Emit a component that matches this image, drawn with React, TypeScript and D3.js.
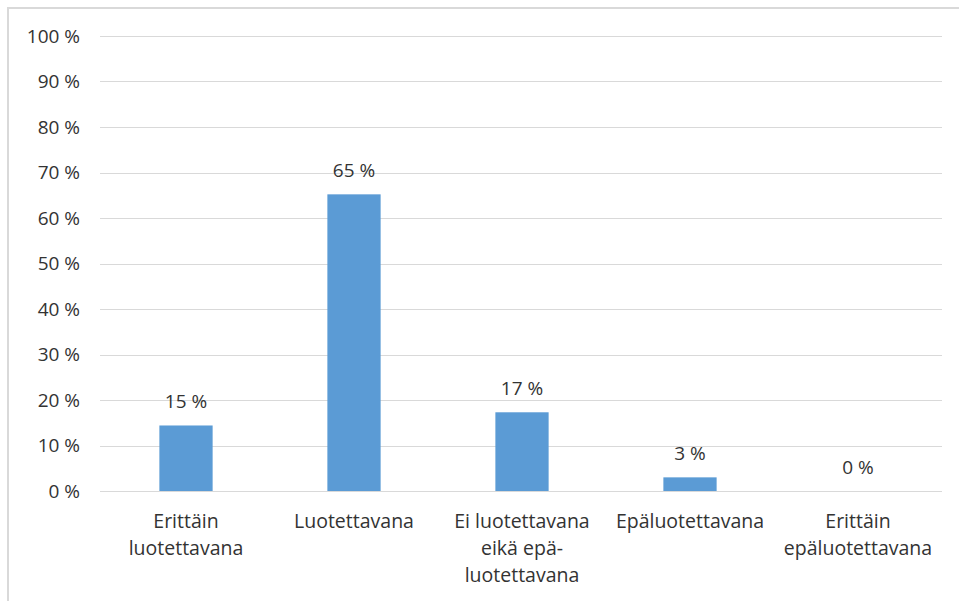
import React, { useEffect } from "react";
import * as d3 from "d3";

const categories: string[][] = [
  ["Erittäin", "luotettavana"],
  ["Luotettavana"],
  ["Ei luotettavana", "eikä epä-", "luotettavana"],
  ["Epäluotettavana"],
  ["Erittäin", "epäluotettavana"],
];
const values: number[] = [14.4, 65.2, 17.3, 3.0, 0];
const dataLabels: string[] = ["15 %", "65 %", "17 %", "3 %", "0 %"];
const yTicks: number[] = [0, 10, 20, 30, 40, 50, 60, 70, 80, 90, 100];

const W = 959;
const H = 601;
const FONT = "'Open Sans', 'Liberation Sans', sans-serif";
const TEXT = "#333333";

export default function App() {
  useEffect(() => {
    document.body.style.margin = "0";
  }, []);

  const x = d3
    .scaleBand<number>()
    .domain(d3.range(categories.length))
    .range([102, 942])
    .paddingInner(0.683)
    .paddingOuter(0.3415);
  const y = d3.scaleLinear().domain([0, 100]).range([491, 36]);

  return (
    <svg width={W} height={H} style={{ display: "block" }} fontFamily={FONT}>
      <rect x={0} y={0} width={W} height={H} fill="#fff" />
      <rect x={8} y={8} width={W + 10} height={H + 10} fill="none" stroke="#d9d9d9" strokeWidth={2} />
      {yTicks.map((t) => (
        <g key={t}>
          <line x1={100} x2={942} y1={Math.round(y(t)) + 0.5} y2={Math.round(y(t)) + 0.5} stroke="#d9d9d9" strokeWidth={1} />
          <text x={80} y={y(t) + 6.5} textAnchor="end" fontSize={19} fill={TEXT}>
            {`${t} %`}
          </text>
        </g>
      ))}
      {values.map((v, i) => (
        <g key={i}>
          <rect x={x(i)} y={y(v)} width={x.bandwidth()} height={y(0) - y(v)} fill="#5b9bd5" />
          <text x={(x(i) as number) + x.bandwidth() / 2} y={y(v) - 17} textAnchor="middle" fontSize={19} fill={TEXT}>
            {dataLabels[i]}
          </text>
          {categories[i].map((line, j) => (
            <text
              key={j}
              x={(x(i) as number) + x.bandwidth() / 2}
              y={527.7 + j * 27.3}
              textAnchor="middle"
              fontSize={19.5}
              fill={TEXT}
            >
              {line}
            </text>
          ))}
        </g>
      ))}
    </svg>
  );
}
